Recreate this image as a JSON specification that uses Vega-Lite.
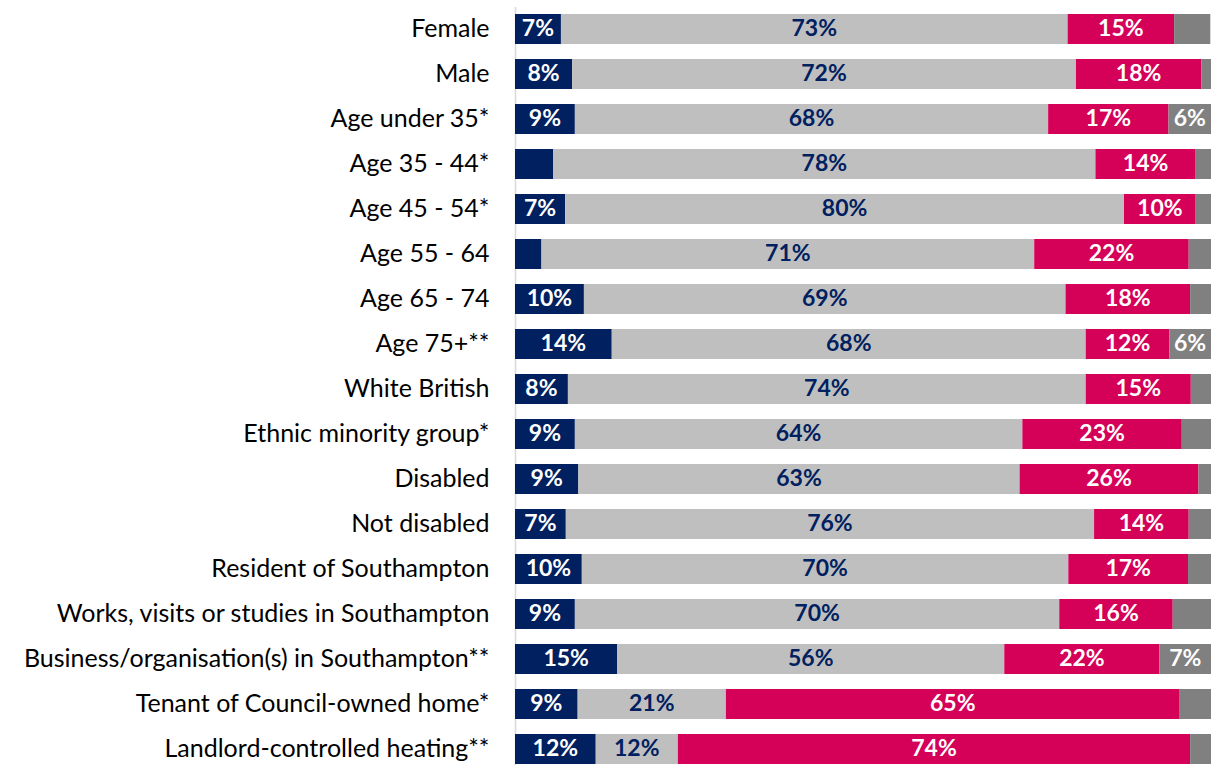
{
  "$schema": "https://vega.github.io/schema/vega-lite/v6.json",
  "width": 696,
  "height": 765,
  "autosize": {"type": "none"},
  "padding": {"left": 515, "top": 6.5, "right": 0, "bottom": 0},
  "background": "white",
  "config": {"view": {"stroke": null}, "font": "Lato"},
  "data": {"values": [
    {"group": "Female", "cat": "Agree", "k": 1, "value": 6.6},
    {"group": "Female", "cat": "Neither", "k": 2, "value": 72.8},
    {"group": "Female", "cat": "Disagree", "k": 3, "value": 15.3},
    {"group": "Female", "cat": "Don't know", "k": 4, "value": 5.2},
    {"group": "Male", "cat": "Agree", "k": 1, "value": 8.2},
    {"group": "Male", "cat": "Neither", "k": 2, "value": 72.4},
    {"group": "Male", "cat": "Disagree", "k": 3, "value": 18.0},
    {"group": "Male", "cat": "Don't know", "k": 4, "value": 1.4},
    {"group": "Age under 35*", "cat": "Agree", "k": 1, "value": 8.6},
    {"group": "Age under 35*", "cat": "Neither", "k": 2, "value": 68.0},
    {"group": "Age under 35*", "cat": "Disagree", "k": 3, "value": 17.3},
    {"group": "Age under 35*", "cat": "Don't know", "k": 4, "value": 6.1},
    {"group": "Age 35 - 44*", "cat": "Agree", "k": 1, "value": 5.5},
    {"group": "Age 35 - 44*", "cat": "Neither", "k": 2, "value": 77.9},
    {"group": "Age 35 - 44*", "cat": "Disagree", "k": 3, "value": 14.4},
    {"group": "Age 35 - 44*", "cat": "Don't know", "k": 4, "value": 2.2},
    {"group": "Age 45 - 54*", "cat": "Agree", "k": 1, "value": 7.2},
    {"group": "Age 45 - 54*", "cat": "Neither", "k": 2, "value": 80.3},
    {"group": "Age 45 - 54*", "cat": "Disagree", "k": 3, "value": 10.3},
    {"group": "Age 45 - 54*", "cat": "Don't know", "k": 4, "value": 2.2},
    {"group": "Age 55 - 64", "cat": "Agree", "k": 1, "value": 3.8},
    {"group": "Age 55 - 64", "cat": "Neither", "k": 2, "value": 70.8},
    {"group": "Age 55 - 64", "cat": "Disagree", "k": 3, "value": 22.2},
    {"group": "Age 55 - 64", "cat": "Don't know", "k": 4, "value": 3.2},
    {"group": "Age 65 - 74", "cat": "Agree", "k": 1, "value": 9.9},
    {"group": "Age 65 - 74", "cat": "Neither", "k": 2, "value": 69.2},
    {"group": "Age 65 - 74", "cat": "Disagree", "k": 3, "value": 17.9},
    {"group": "Age 65 - 74", "cat": "Don't know", "k": 4, "value": 3.0},
    {"group": "Age 75+**", "cat": "Agree", "k": 1, "value": 13.9},
    {"group": "Age 75+**", "cat": "Neither", "k": 2, "value": 68.1},
    {"group": "Age 75+**", "cat": "Disagree", "k": 3, "value": 12.0},
    {"group": "Age 75+**", "cat": "Don't know", "k": 4, "value": 6.0},
    {"group": "White British", "cat": "Agree", "k": 1, "value": 7.6},
    {"group": "White British", "cat": "Neither", "k": 2, "value": 74.4},
    {"group": "White British", "cat": "Disagree", "k": 3, "value": 15.1},
    {"group": "White British", "cat": "Don't know", "k": 4, "value": 2.9},
    {"group": "Ethnic minority group*", "cat": "Agree", "k": 1, "value": 8.6},
    {"group": "Ethnic minority group*", "cat": "Neither", "k": 2, "value": 64.3},
    {"group": "Ethnic minority group*", "cat": "Disagree", "k": 3, "value": 22.9},
    {"group": "Ethnic minority group*", "cat": "Don't know", "k": 4, "value": 4.2},
    {"group": "Disabled", "cat": "Agree", "k": 1, "value": 9.1},
    {"group": "Disabled", "cat": "Neither", "k": 2, "value": 63.4},
    {"group": "Disabled", "cat": "Disagree", "k": 3, "value": 25.7},
    {"group": "Disabled", "cat": "Don't know", "k": 4, "value": 1.8},
    {"group": "Not disabled", "cat": "Agree", "k": 1, "value": 7.3},
    {"group": "Not disabled", "cat": "Neither", "k": 2, "value": 75.9},
    {"group": "Not disabled", "cat": "Disagree", "k": 3, "value": 13.6},
    {"group": "Not disabled", "cat": "Don't know", "k": 4, "value": 3.2},
    {"group": "Resident of Southampton", "cat": "Agree", "k": 1, "value": 9.6},
    {"group": "Resident of Southampton", "cat": "Neither", "k": 2, "value": 69.9},
    {"group": "Resident of Southampton", "cat": "Disagree", "k": 3, "value": 17.2},
    {"group": "Resident of Southampton", "cat": "Don't know", "k": 4, "value": 3.3},
    {"group": "Works, visits or studies in Southampton", "cat": "Agree", "k": 1, "value": 8.6},
    {"group": "Works, visits or studies in Southampton", "cat": "Neither", "k": 2, "value": 69.6},
    {"group": "Works, visits or studies in Southampton", "cat": "Disagree", "k": 3, "value": 16.3},
    {"group": "Works, visits or studies in Southampton", "cat": "Don't know", "k": 4, "value": 5.5},
    {"group": "Business/organisation(s) in Southampton**", "cat": "Agree", "k": 1, "value": 14.7},
    {"group": "Business/organisation(s) in Southampton**", "cat": "Neither", "k": 2, "value": 55.6},
    {"group": "Business/organisation(s) in Southampton**", "cat": "Disagree", "k": 3, "value": 22.3},
    {"group": "Business/organisation(s) in Southampton**", "cat": "Don't know", "k": 4, "value": 7.4},
    {"group": "Tenant of Council-owned home*", "cat": "Agree", "k": 1, "value": 9.0},
    {"group": "Tenant of Council-owned home*", "cat": "Neither", "k": 2, "value": 21.3},
    {"group": "Tenant of Council-owned home*", "cat": "Disagree", "k": 3, "value": 65.2},
    {"group": "Tenant of Council-owned home*", "cat": "Don't know", "k": 4, "value": 4.5},
    {"group": "Landlord-controlled heating**", "cat": "Agree", "k": 1, "value": 11.6},
    {"group": "Landlord-controlled heating**", "cat": "Neither", "k": 2, "value": 11.8},
    {"group": "Landlord-controlled heating**", "cat": "Disagree", "k": 3, "value": 73.6},
    {"group": "Landlord-controlled heating**", "cat": "Don't know", "k": 4, "value": 3.0}
  ]},
  "transform": [
    {"stack": "value", "groupby": ["group"], "sort": [{"field": "k", "order": "ascending"}], "as": ["v0", "v1"]},
    {"calculate": "(datum.v0 + datum.v1) / 2", "as": "mid"},
    {"calculate": "format(datum.value, '.0f') + '%'", "as": "label"}
  ],
  "encoding": {
    "y": {
      "field": "group", "type": "nominal", "sort": null,
      "scale": {"paddingInner": 0.3333, "paddingOuter": 0.1667},
      "axis": {
        "title": null, "ticks": false, "labelPadding": 26,
        "labelFont": "Lato", "labelFontSize": 25, "labelColor": "#000000",
        "labelLimit": 600, "domainColor": "#D9D9D9", "domainWidth": 1.5
      }
    }
  },
  "layer": [
    {
      "mark": {"type": "bar", "clip": true},
      "encoding": {
        "x": {"field": "v0", "type": "quantitative", "scale": {"domain": [0, 100], "nice": false}, "axis": null},
        "x2": {"field": "v1"},
        "color": {
          "field": "cat", "type": "nominal",
          "scale": {"domain": ["Agree", "Neither", "Disagree", "Don't know"], "range": ["#002060", "#BFBFBF", "#D50058", "#808080"]},
          "legend": null
        }
      }
    },
    {
      "transform": [{"filter": "datum.value >= 5.8"}],
      "mark": {"type": "text", "font": "Lato", "fontWeight": "bold", "fontSize": 23, "baseline": "middle", "align": "center"},
      "encoding": {
        "x": {"field": "mid", "type": "quantitative"},
        "text": {"field": "label"},
        "color": {"condition": {"test": "datum.k == 2", "value": "#002060"}, "value": "#FFFFFF"}
      }
    }
  ]
}
